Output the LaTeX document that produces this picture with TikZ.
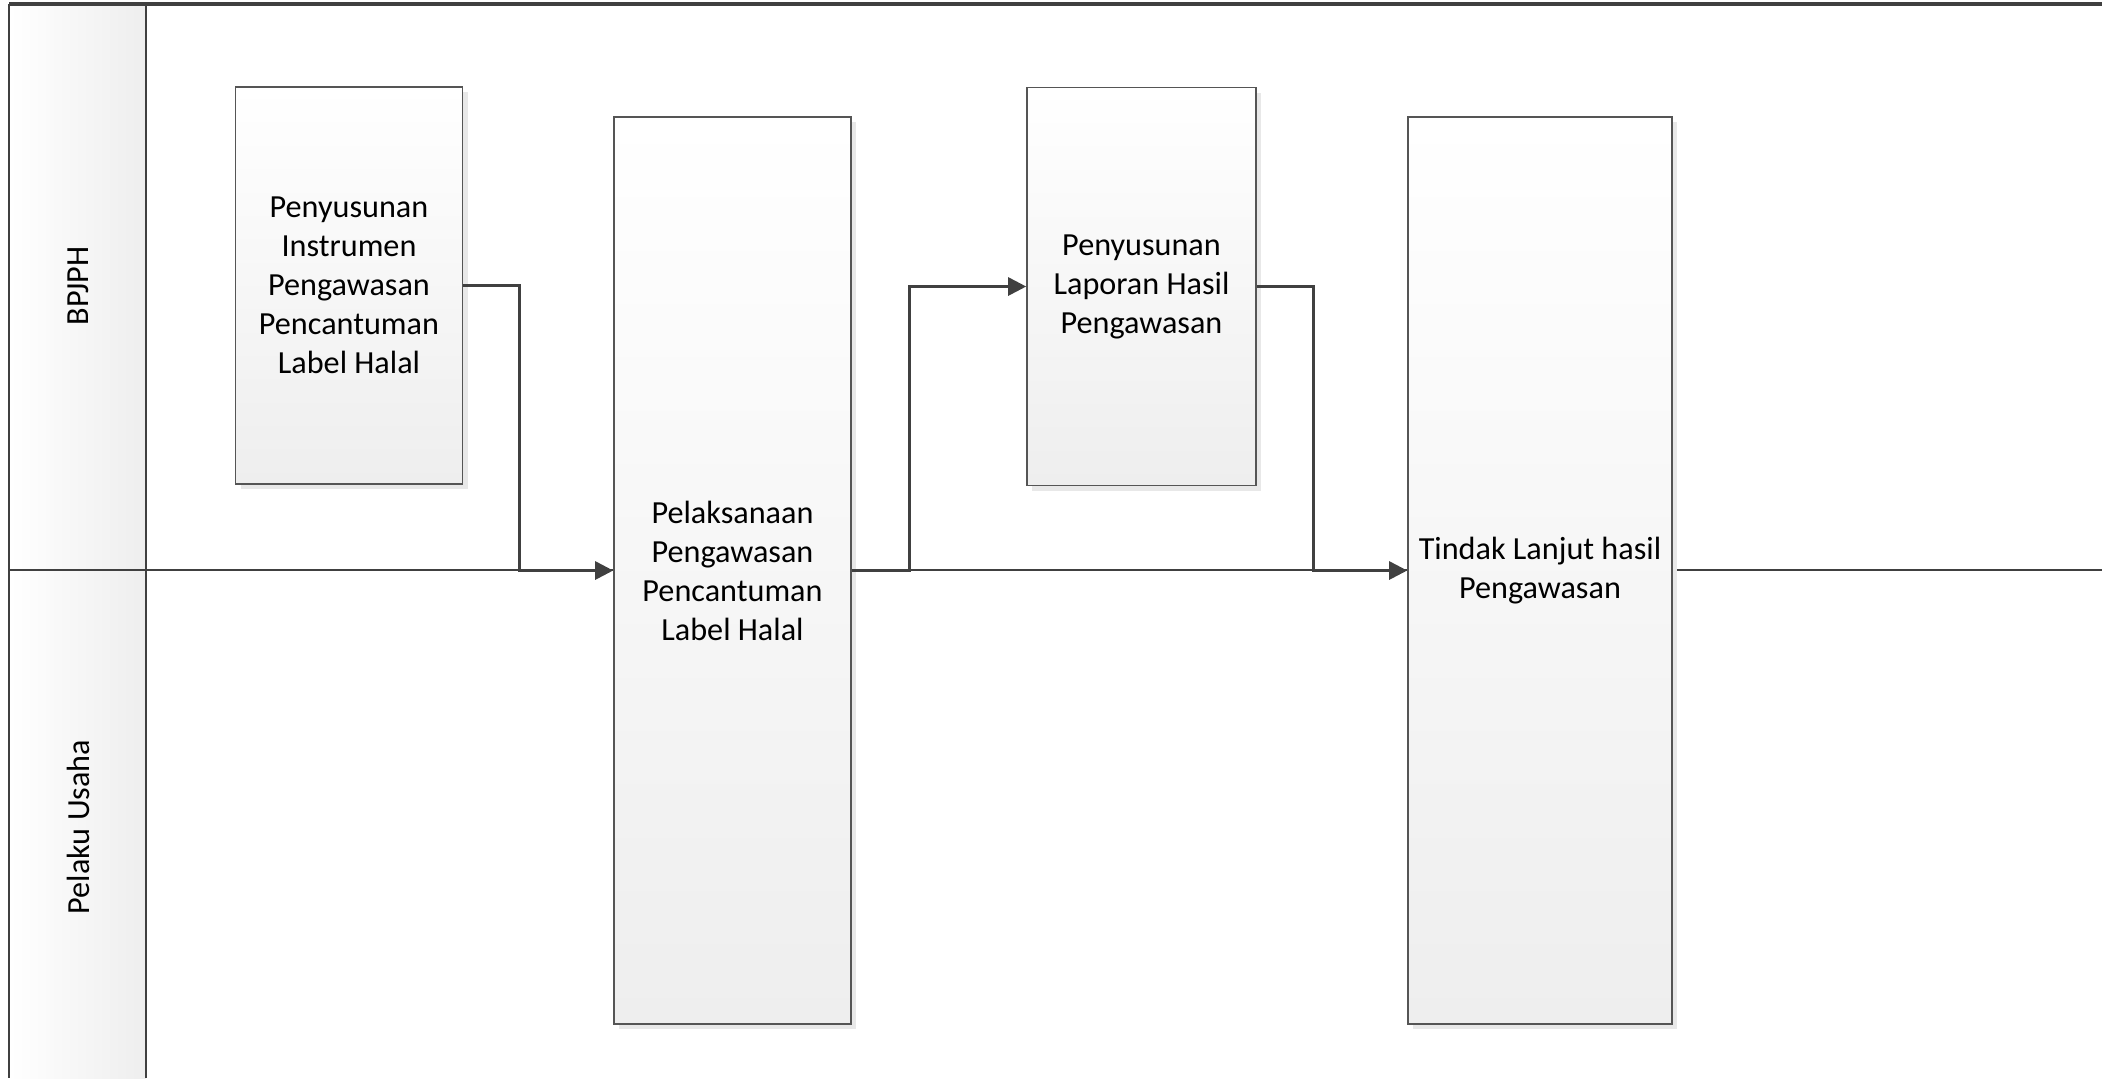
\documentclass[tikz,border=0pt]{standalone}
\usepackage{fontspec}
\setmainfont{Carlito}
\usepackage{tikz}
\usetikzlibrary{positioning,arrows.meta,shadows}

\definecolor{lanegray}{HTML}{404040}
\definecolor{boxline}{HTML}{555555}
\definecolor{boxbottom}{HTML}{EEEEEE}

\begin{document}
\begin{tikzpicture}[
    x=0.5pt, y=-0.5pt,
    every node/.style={font=\fontsize{16.1}{19.5}\selectfont},
    lane/.style={draw=lanegray, line width=1.4pt},
    process/.style={rectangle, draw=boxline, line width=0.8pt, inner sep=2pt,
        top color=white, bottom color=boxbottom, align=center,
        drop shadow={shadow xshift=2.5pt, shadow yshift=-2.5pt, fill=black!9, opacity=1}},
    flow/.style={draw=lanegray, line width=1.4pt, -{Triangle[length=9pt,width=9pt]}}
]
\useasboundingbox (0,0) rectangle (2102,1078);

% lanes
\fill[left color=white, right color=boxbottom] (9,4) rectangle (146,1078);
\draw[lane, line width=2pt] (9,4) -- (2102,4);
\draw[lane] (9,4) -- (9,1078);
\draw[lane] (146,4) -- (146,1078);
\draw[lane] (9,570) -- (2102,570);
\node[rotate=90] (bpjph) at (78,286) {BPJPH};
\node[rotate=90] (pelaku) at (78,827) {Pelaku Usaha};

% steps
\node[process, minimum width=113.5pt, minimum height=198.5pt] (instrumen) at (349,285.5)
    {Penyusunan\\Instrumen\\Pengawasan\\Pencantuman\\Label Halal};
\node[process, minimum width=118.5pt, minimum height=453.5pt] (pelaksanaan) at (732.5,570.5)
    {Pelaksanaan\\Pengawasan\\Pencantuman\\Label Halal};
\node[process, minimum width=114.5pt, minimum height=199pt] (laporan) at (1141.5,286.5)
    {Penyusunan\\Laporan Hasil\\Pengawasan};
\node[process, minimum width=132pt, minimum height=453.5pt] (tindak) at (1540,570.5)
    {Tindak Lanjut hasil\\Pengawasan};

% connectors
\draw[flow] (instrumen.east) -- ++(56,0) |- (pelaksanaan.west);
\draw[flow] (pelaksanaan.east) -- ++(58,0) |- (laporan.west);
\draw[flow] (laporan.east) -- ++(57,0) |- (tindak.west);
\end{tikzpicture}
\end{document}
